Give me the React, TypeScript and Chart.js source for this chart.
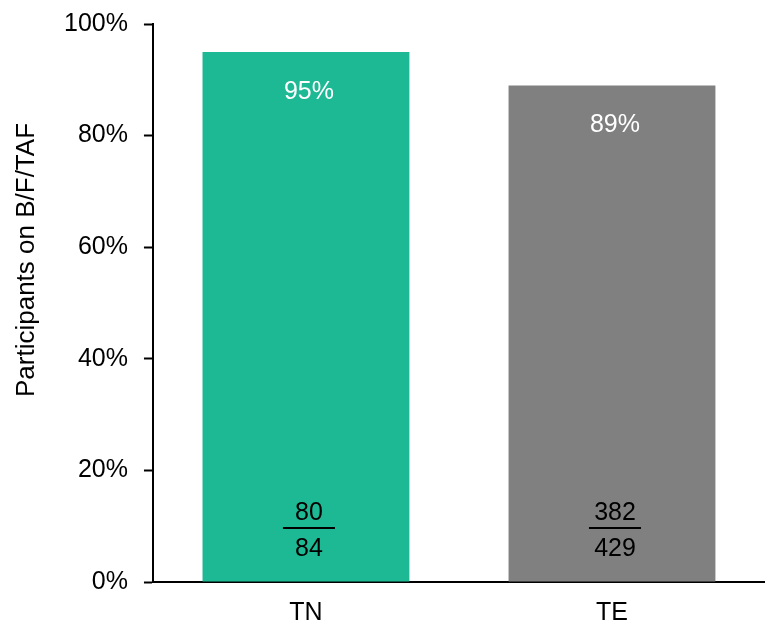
import React, { useEffect, useRef } from "react";
import { Chart, registerables } from "chart.js";

Chart.register(...registerables);

const categories = ["TN", "TE"];
const percentages = [95, 89];
const numerators = [80, 382];
const denominators = [84, 429];
const barColors = ["#1db894", "#808080"];
const yTicks = [0, 20, 40, 60, 80, 100];
const yTitle = "Participants on B/F/TAF";

const FONT = "'Liberation Sans', Arial, sans-serif";

const labelPlugin = {
  id: "barLabels",
  afterDatasetsDraw(chart: any) {
    const ctx = chart.ctx;
    const meta = chart.getDatasetMeta(0);
    const yScale = chart.scales.y;
    const base = yScale.getPixelForValue(0);
    ctx.save();
    ctx.textAlign = "center";
    ctx.textBaseline = "middle";
    ctx.font = `25px ${FONT}`;
    meta.data.forEach((bar: any, i: number) => {
      const x = bar.x + 3;
      // percentage label
      ctx.fillStyle = "#ffffff";
      ctx.fillText(`${percentages[i]}%`, x, bar.y + 40);
      // fraction
      ctx.fillStyle = "#000000";
      ctx.fillText(String(numerators[i]), x, base - 69);
      ctx.fillText(String(denominators[i]), x, base - 33);
      ctx.strokeStyle = "#000000";
      ctx.lineWidth = 2;
      ctx.beginPath();
      ctx.moveTo(x - 26, base - 54);
      ctx.lineTo(x + 26, base - 54);
      ctx.stroke();
    });
    // y title
    ctx.save();
    ctx.translate(27, 260);
    ctx.rotate(-Math.PI / 2);
    ctx.font = `26px ${FONT}`;
    ctx.fillStyle = "#000000";
    ctx.fillText(yTitle, 0, 0);
    ctx.restore();
    ctx.restore();
  },
};

export default function App() {
  const ref = useRef<HTMLCanvasElement>(null);
  useEffect(() => {
    document.body.style.margin = "0";
    const chart = new Chart(ref.current as HTMLCanvasElement, {
      type: "bar",
      data: {
        labels: categories,
        datasets: [
          {
            data: percentages,
            backgroundColor: barColors,
            borderWidth: 0,
            barPercentage: 0.676,
            categoryPercentage: 1,
          },
        ],
      },
      options: {
        responsive: false,
        animation: false,
        layout: { padding: { left: 48, top: 24, right: 0, bottom: -23 } },
        plugins: {
          legend: { display: false },
          tooltip: { enabled: false },
        },
        scales: {
          x: {
            grid: { display: false, drawTicks: false },
            border: { display: true, color: "#000000", width: 2 },
            ticks: {
              color: "#000000",
              font: { family: FONT, size: 25 },
              padding: 16,
            },
          },
          y: {
            min: 0,
            max: 100,
            afterBuildTicks: (scale: any) => {
              scale.ticks = yTicks.map((v) => ({ value: v }));
            },
            afterFit: (scale: any) => {
              scale.paddingTop = 0;
              scale.paddingBottom = 0;
            },
            grid: {
              drawOnChartArea: false,
              drawTicks: true,
              tickLength: 9,
              tickWidth: 2,
              tickColor: "#000000",
            },
            border: { display: true, color: "#000000", width: 2 },
            ticks: {
              color: "#000000",
              font: { family: FONT, size: 25 },
              padding: 16,
              callback: (v: any) => `${v}%`,
            },
          },
        },
      },
      plugins: [labelPlugin],
    });
    return () => chart.destroy();
  }, []);
  return <canvas ref={ref} width={765} height={621} style={{ display: "block" }} />;
}
